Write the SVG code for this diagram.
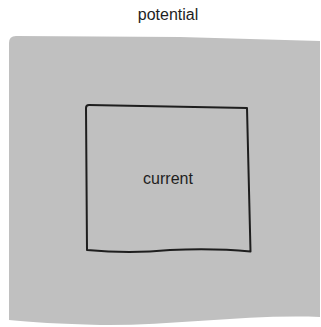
<svg xmlns="http://www.w3.org/2000/svg" width="321" height="327" viewBox="0 0 321 327">
<style>
.lbl{font-family:"Liberation Sans","DejaVu Sans",sans-serif;font-size:16px;fill:#1e1e1e;text-anchor:middle}
</style>
<rect width="321" height="327" fill="#ffffff"/>
<g id="potential">
<path d="M9,43 Q9,36 16,36 L180,37 L320,41 L320,317 C250,314 170,326 100,325 C60,324 30,322 9,320 Z" fill="#c0c0c0"/>
<text class="lbl" x="168" y="20">potential</text>
</g>
<g id="current">
<path d="M86,108 Q86,105 89,105 L247,108 L250.5,251.5 Q214,248 170,250 Q130,254 87,250 Z" fill="#c0c0c0" stroke="#1e1e1e" stroke-width="2" stroke-linejoin="round"/>
<text class="lbl" x="168" y="184">current</text>
</g>
<g id="connectors"></g>
</svg>
